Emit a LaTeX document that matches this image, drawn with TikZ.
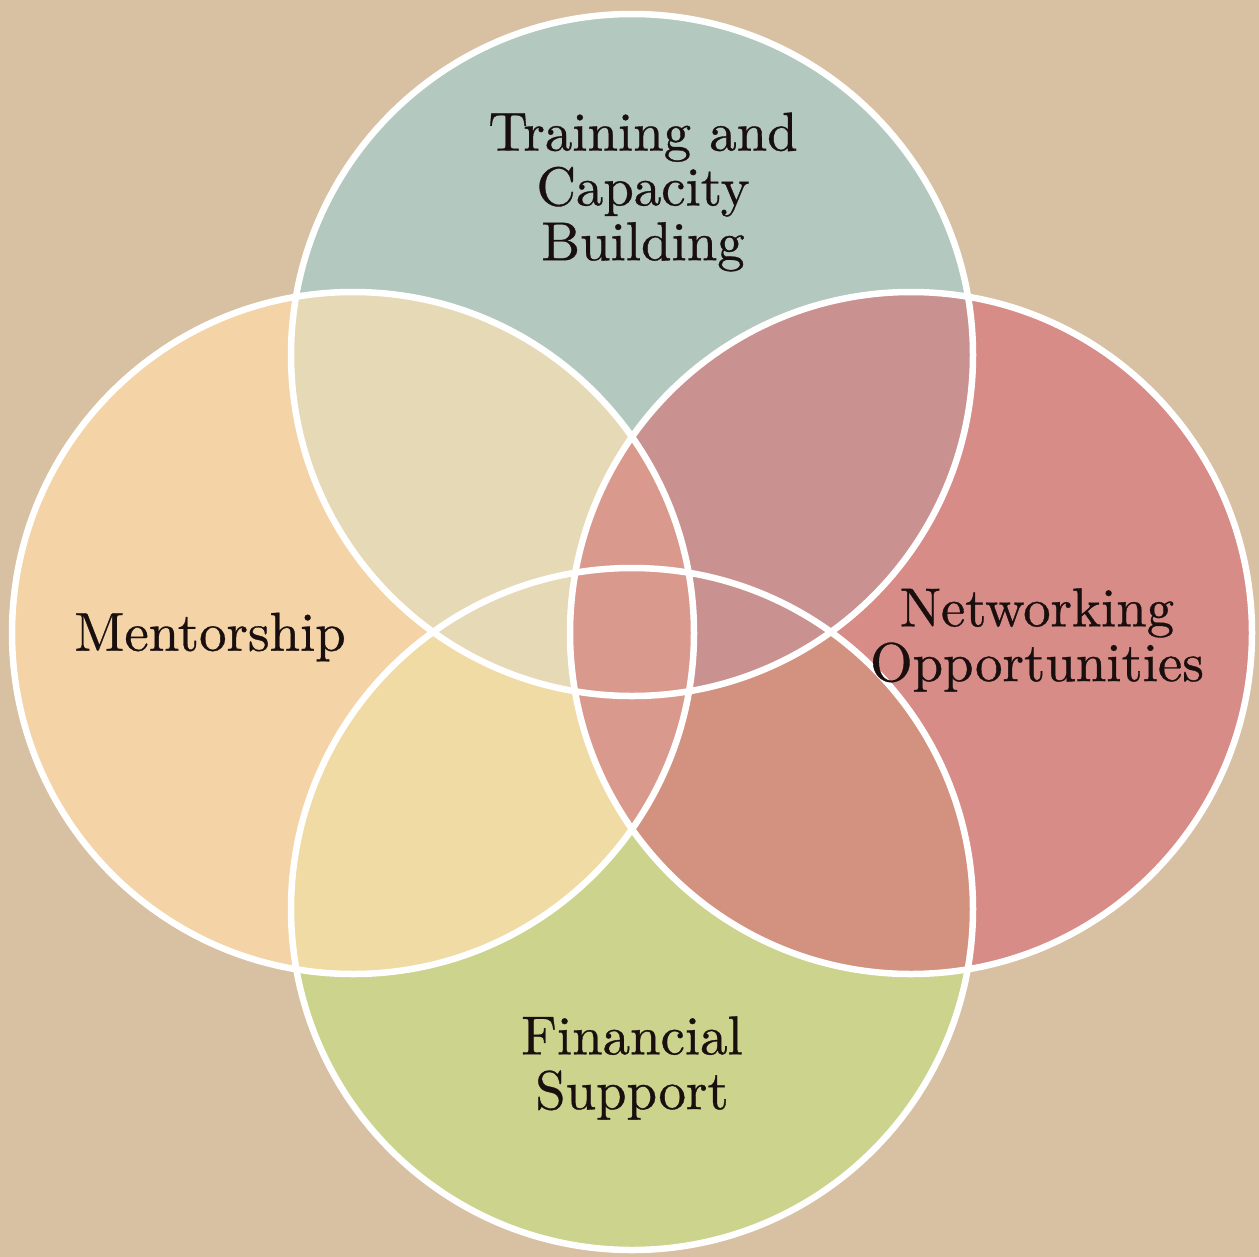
\documentclass[tikz,border=0pt]{standalone}
\usepackage{fontspec}
\newfontfamily\lblfont{lmroman10-regular.otf}[FakeBold=0.6]
\usetikzlibrary{calc}
\definecolor{bgcol}{HTML}{D8C0A3}
\definecolor{cT}{HTML}{B3C8BF}
\definecolor{cL}{HTML}{F4D3A6}
\definecolor{cR}{HTML}{D88C87}
\definecolor{cB}{HTML}{CBD38C}
\definecolor{cTL}{HTML}{E6D9B5}
\definecolor{cTR}{HTML}{C99291}
\definecolor{cBL}{HTML}{F1DBA4}
\definecolor{cBR}{HTML}{D3927F}
\definecolor{cLR}{HTML}{DA998D}
\definecolor{txtcol}{HTML}{1A0F0F}
\begin{document}
\begin{tikzpicture}[x=1bp,y=-1bp,
  ring/.style={draw=white,line width=6.5bp},
  lbl/.style={text=txtcol,align=center,font=\lblfont\fontsize{55}{55}\selectfont,inner sep=0pt}]
\fill[bgcol] (0,0) rectangle (1259,1257);
\useasboundingbox (0,0) rectangle (1259,1257);
\def\rad{341}
\coordinate (T) at (632,355);
\coordinate (B) at (632,909);
\coordinate (L) at (353,633);
\coordinate (R) at (911,633);
% single circles
\fill[cT] (T) circle (\rad);
\fill[cB] (B) circle (\rad);
\fill[cL] (L) circle (\rad);
\fill[cR] (R) circle (\rad);
% pairwise overlaps
\begin{scope}\clip (B) circle (\rad); \fill[cBL] (L) circle (\rad); \end{scope}
\begin{scope}\clip (B) circle (\rad); \fill[cBR] (R) circle (\rad); \end{scope}
\begin{scope}\clip (T) circle (\rad); \fill[cTL] (L) circle (\rad); \end{scope}
\begin{scope}\clip (T) circle (\rad); \fill[cTR] (R) circle (\rad); \end{scope}
\begin{scope}\clip (L) circle (\rad); \fill[cLR] (R) circle (\rad); \end{scope}
% white outlines
\draw[ring] (T) circle (\rad);
\draw[ring] (B) circle (\rad);
\draw[ring] (L) circle (\rad);
\draw[ring] (R) circle (\rad);
% labels
\node[lbl] (tT) at (643,192) {Training and\\Capacity\\Building};
\node[lbl] (tL) at (210,637) {Mentorship};
\node[lbl] (tR) at (1037,640) {Networking\\Opportunities};
\node[lbl] (tB) at (632,1068) {Financial\\Support};
\end{tikzpicture}
\end{document}
